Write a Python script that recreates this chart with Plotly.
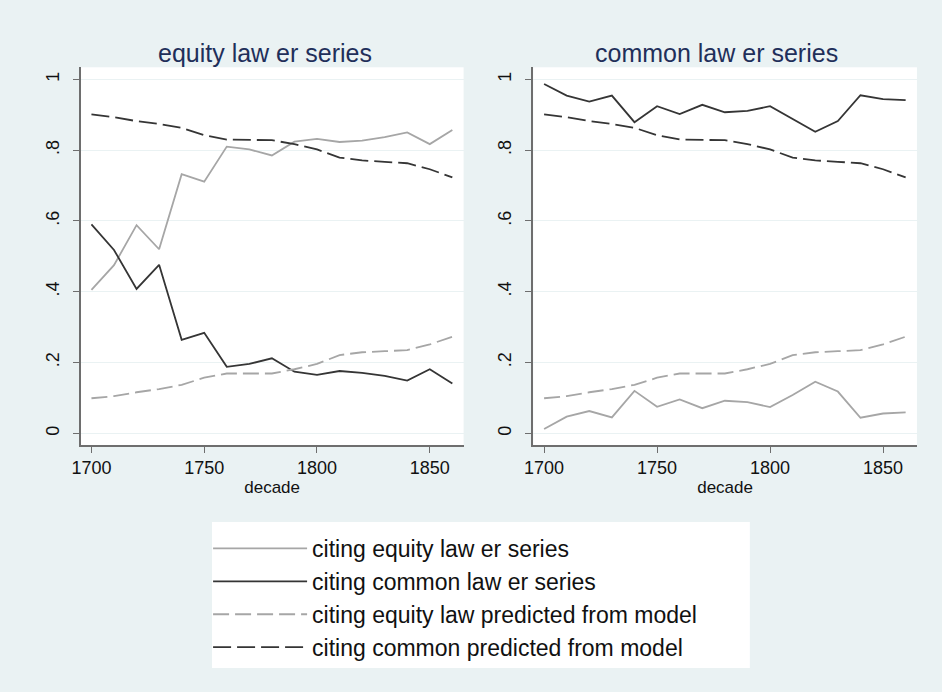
import plotly.graph_objects as go

# decades on the x axis
decades = [1700, 1710, 1720, 1730, 1740, 1750, 1760, 1770, 1780,
           1790, 1800, 1810, 1820, 1830, 1840, 1850, 1860]

# equity law er series panel
eq_cite_equity = [0.405, 0.475, 0.588, 0.52, 0.732, 0.711, 0.81, 0.802, 0.785,
                  0.824, 0.832, 0.823, 0.827, 0.837, 0.85, 0.817, 0.857]
eq_cite_common = [0.59, 0.518, 0.408, 0.476, 0.264, 0.284, 0.188, 0.196, 0.212,
                  0.174, 0.165, 0.176, 0.171, 0.162, 0.149, 0.181, 0.141]

# common law er series panel
cl_cite_equity = [0.012, 0.047, 0.063, 0.045, 0.12, 0.075, 0.096, 0.071, 0.092,
                  0.088, 0.074, 0.108, 0.146, 0.118, 0.044, 0.056, 0.059]
cl_cite_common = [0.987, 0.954, 0.937, 0.954, 0.879, 0.924, 0.902, 0.928, 0.907,
                  0.911, 0.924, 0.889, 0.852, 0.882, 0.955, 0.944, 0.941]

# model predictions (same in both panels)
pred_equity = [0.099, 0.105, 0.116, 0.125, 0.137, 0.157, 0.169, 0.169, 0.169,
               0.181, 0.196, 0.221, 0.229, 0.232, 0.235, 0.251, 0.273]
pred_common = [0.901, 0.893, 0.882, 0.874, 0.863, 0.842, 0.83, 0.828, 0.828,
               0.817, 0.802, 0.779, 0.771, 0.767, 0.763, 0.746, 0.723]

panel_titles = ["equity law er series", "common law er series"]
legend_names = ["citing equity law er series", "citing common law er series",
                "citing equity law predicted from model",
                "citing common predicted from model"]
ytick_vals = [0, 0.2, 0.4, 0.6, 0.8, 1]
ytick_text = ["0", ".2", ".4", ".6", ".8", "1"]

W, H = 942, 692
BG = "#eaf2f3"
LIGHT = "#a6a6a6"
DARK = "#353535"
FONT = "Liberation Sans"

styles = [dict(color=LIGHT, width=1.8),
          dict(color=DARK, width=1.8),
          dict(color=LIGHT, width=1.8, dash="16px,6px"),
          dict(color=DARK, width=1.8, dash="18px,6px")]

fig = go.Figure()

panels = [(eq_cite_equity, eq_cite_common), (cl_cite_equity, cl_cite_common)]
for p, (ce, cc) in enumerate(panels):
    xa = "x" if p == 0 else "x2"
    ya = "y" if p == 0 else "y2"
    for i, ys in enumerate([ce, cc, pred_equity, pred_common]):
        fig.add_trace(go.Scatter(
            x=decades, y=ys, mode="lines", line=styles[i],
            name=legend_names[i], showlegend=(p == 0),
            legendgroup="g%d" % i, xaxis=xa, yaxis=ya))

ydom = [1 - 445 / H, 1 - 67.3 / H]
xdoms = [[72.3 / W, 459 / W], [529.3 / W, 916.7 / W]]
title_x = [258 / W, 714 / W]

axis_common = dict(showline=True, linecolor="#6e6e6e", linewidth=1.5,
                   ticks="outside", ticklen=6, tickcolor="#6e6e6e",
                   tickfont=dict(family=FONT, size=18, color="#111"),
                   zeroline=False)

for p in range(2):
    sfx = "" if p == 0 else "2"
    fig.update_layout(**{
        "xaxis" + sfx: dict(
            domain=xdoms[p], range=[1695.2, 1865], anchor="y" + sfx,
            tickvals=[1700, 1750, 1800, 1850], showgrid=False,
            title=dict(text="decade", standoff=0,
                       font=dict(family=FONT, size=17, color="#111")),
            **axis_common),
        "yaxis" + sfx: dict(
            domain=ydom, range=[-0.033, 1.034], anchor="x" + sfx,
            tickvals=ytick_vals, ticktext=ytick_text, tickangle=-90,
            ticklabelstandoff=7,
            showgrid=True, gridcolor=BG, gridwidth=1.2,
            **axis_common),
    })
    fig.add_annotation(
        text=panel_titles[p], xref="paper", yref="paper",
        x=title_x[p], y=1 - 53 / H, xanchor="center", yanchor="middle",
        showarrow=False, font=dict(family=FONT, size=25, color="#1f2f5a"))

# white legend box
fig.add_shape(type="rect", xref="paper", yref="paper",
              x0=205 / W, x1=748 / W, y0=1 - 668 / H, y1=1 - 522 / H,
              fillcolor="white", line=dict(width=0), layer="below")

fig.update_layout(
    width=W, height=H,
    margin=dict(l=0, r=0, t=0, b=0),
    paper_bgcolor=BG, plot_bgcolor="white",
    font=dict(family=FONT),
    legend=dict(x=201 / W, y=1 - 527 / H, xanchor="left", yanchor="top",
                bgcolor="rgba(0,0,0,0)", traceorder="grouped",
                tracegroupgap=0, itemwidth=94,
                font=dict(family=FONT, size=23, color="#111")),
)

fig.write_html("out.html", config={"displayModeBar": False},
               post_script="document.body.style.margin='0';")
